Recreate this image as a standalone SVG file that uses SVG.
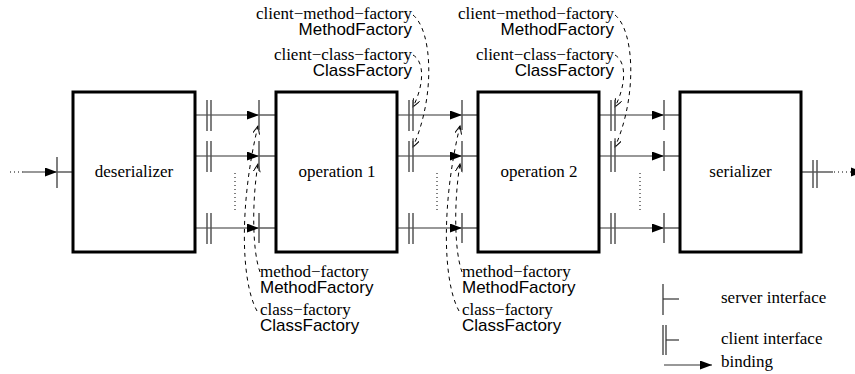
<svg xmlns="http://www.w3.org/2000/svg" width="855" height="374" viewBox="0 0 855 374">
<style>
.box{fill:#fff;stroke:#000;stroke-width:3}
.serif{font-family:"Liberation Serif","Times New Roman",serif;font-size:17px;fill:#000}
.sans{font-family:"Liberation Sans",Arial,sans-serif;font-size:17px;fill:#000}
.wire{stroke:#333;stroke-width:1.2;fill:none}
.bar{stroke:#555;stroke-width:1.5;fill:none}
.dash{stroke:#000;stroke-width:1;stroke-dasharray:4,4;fill:none}
.dots{stroke:#000;stroke-width:1;stroke-dasharray:1,3;fill:none}
</style>
<defs>
<marker id="arr" markerUnits="userSpaceOnUse" markerWidth="14" markerHeight="10" refX="12" refY="4.5" orient="auto">
<path d="M0,0 L12,4.5 L0,9 z" fill="#000"/>
</marker>
<marker id="open" markerUnits="userSpaceOnUse" markerWidth="12" markerHeight="10" refX="8" refY="3.5" orient="auto">
<path d="M0,0 L8,3.5 L0,7" fill="none" stroke="#000" stroke-width="1"/>
</marker>
</defs>

<g id="connectors">
<!-- input -->
<line class="dots" x1="10" y1="172" x2="23" y2="172"/>
<line class="wire" x1="23" y1="172" x2="57" y2="172" marker-end="url(#arr)"/>
<line class="wire" x1="57" y1="172" x2="73" y2="172"/>
<!-- gap 1 -->
<line class="wire" x1="195" y1="115" x2="259" y2="115" marker-end="url(#arr)"/>
<line class="wire" x1="259" y1="115" x2="276" y2="115"/>
<line class="wire" x1="195" y1="156" x2="259" y2="156" marker-end="url(#arr)"/>
<line class="wire" x1="259" y1="156" x2="276" y2="156"/>
<line class="wire" x1="195" y1="228" x2="259" y2="228" marker-end="url(#arr)"/>
<line class="wire" x1="259" y1="228" x2="276" y2="228"/>
<line class="dots" x1="235" y1="173" x2="235" y2="212"/>
<!-- gap 2 -->
<line class="wire" x1="397" y1="115" x2="462" y2="115" marker-end="url(#arr)"/>
<line class="wire" x1="462" y1="115" x2="478" y2="115"/>
<line class="wire" x1="397" y1="156" x2="462" y2="156" marker-end="url(#arr)"/>
<line class="wire" x1="462" y1="156" x2="478" y2="156"/>
<line class="wire" x1="397" y1="228" x2="462" y2="228" marker-end="url(#arr)"/>
<line class="wire" x1="462" y1="228" x2="478" y2="228"/>
<line class="dots" x1="437" y1="173" x2="437" y2="212"/>
<!-- gap 3 -->
<line class="wire" x1="599" y1="115" x2="664" y2="115" marker-end="url(#arr)"/>
<line class="wire" x1="664" y1="115" x2="680" y2="115"/>
<line class="wire" x1="599" y1="156" x2="664" y2="156" marker-end="url(#arr)"/>
<line class="wire" x1="664" y1="156" x2="680" y2="156"/>
<line class="wire" x1="599" y1="228" x2="664" y2="228" marker-end="url(#arr)"/>
<line class="wire" x1="664" y1="228" x2="680" y2="228"/>
<line class="dots" x1="640" y1="173" x2="640" y2="212"/>
<!-- output -->
<line class="wire" x1="801" y1="172" x2="833" y2="172"/>
<line class="dots" x1="834" y1="172" x2="851" y2="172"/>
<path d="M851,167.5 L863,172 L851,176.5 z" fill="#000"/>

<!-- factory bindings op1 -->
<path class="dash" d="M413,55 C425,62 424,85 413,107" marker-end="url(#open)"/>
<path class="dash" d="M413,15 C432,30 436,95 413,147" marker-end="url(#open)"/>
<path class="dash" d="M257,311 C240,280 240,200 258,126" marker-end="url(#open)"/>
<path class="dash" d="M260,272 C252,250 252,200 258,164" marker-end="url(#open)"/>
<!-- factory bindings op2 -->
<path class="dash" d="M615,55 C627,62 626,85 615,107" marker-end="url(#open)"/>
<path class="dash" d="M615,15 C634,30 638,95 615,147" marker-end="url(#open)"/>
<path class="dash" d="M459,311 C442,280 442,200 460,126" marker-end="url(#open)"/>
<path class="dash" d="M462,272 C454,250 454,200 460,164" marker-end="url(#open)"/>
</g>

<g id="deserializer">
<rect class="box" x="73" y="92" width="122" height="160"/>
<text class="serif" x="134" y="177" text-anchor="middle">deserializer</text>
<line class="bar" x1="57" y1="157" x2="57" y2="188"/>
<line class="bar" x1="207" y1="100" x2="207" y2="131"/><line class="bar" x1="211" y1="100" x2="211" y2="131"/>
<line class="bar" x1="207" y1="141" x2="207" y2="172"/><line class="bar" x1="211" y1="141" x2="211" y2="172"/>
<line class="bar" x1="207" y1="213" x2="207" y2="244"/><line class="bar" x1="211" y1="213" x2="211" y2="244"/>
</g>

<g id="operation1">
<rect class="box" x="276" y="92" width="121" height="160"/>
<text class="serif" x="337" y="177" text-anchor="middle">operation 1</text>
<line class="bar" x1="259" y1="100" x2="259" y2="130"/>
<line class="bar" x1="259" y1="141" x2="259" y2="171"/>
<line class="bar" x1="259" y1="213" x2="259" y2="243"/>
<line class="bar" x1="409" y1="100" x2="409" y2="131"/><line class="bar" x1="413" y1="100" x2="413" y2="131"/>
<line class="bar" x1="409" y1="141" x2="409" y2="172"/><line class="bar" x1="413" y1="141" x2="413" y2="172"/>
<line class="bar" x1="409" y1="213" x2="409" y2="244"/><line class="bar" x1="413" y1="213" x2="413" y2="244"/>
<text class="serif" x="412" y="19" text-anchor="end">client−method−factory</text>
<text class="sans" x="412" y="35" text-anchor="end">MethodFactory</text>
<text class="serif" x="412" y="60" text-anchor="end">client−class−factory</text>
<text class="sans" x="412" y="76" text-anchor="end">ClassFactory</text>
<text class="serif" x="260" y="277">method−factory</text>
<text class="sans" x="260" y="293">MethodFactory</text>
<text class="serif" x="260" y="315">class−factory</text>
<text class="sans" x="260" y="331">ClassFactory</text>
</g>

<g id="operation2">
<rect class="box" x="478" y="92" width="121" height="160"/>
<text class="serif" x="539" y="177" text-anchor="middle">operation 2</text>
<line class="bar" x1="462" y1="100" x2="462" y2="130"/>
<line class="bar" x1="462" y1="141" x2="462" y2="171"/>
<line class="bar" x1="462" y1="213" x2="462" y2="243"/>
<line class="bar" x1="611" y1="100" x2="611" y2="131"/><line class="bar" x1="615" y1="100" x2="615" y2="131"/>
<line class="bar" x1="611" y1="141" x2="611" y2="172"/><line class="bar" x1="615" y1="141" x2="615" y2="172"/>
<line class="bar" x1="611" y1="213" x2="611" y2="244"/><line class="bar" x1="615" y1="213" x2="615" y2="244"/>
<text class="serif" x="614" y="19" text-anchor="end">client−method−factory</text>
<text class="sans" x="614" y="35" text-anchor="end">MethodFactory</text>
<text class="serif" x="614" y="60" text-anchor="end">client−class−factory</text>
<text class="sans" x="614" y="76" text-anchor="end">ClassFactory</text>
<text class="serif" x="462" y="277">method−factory</text>
<text class="sans" x="462" y="293">MethodFactory</text>
<text class="serif" x="462" y="315">class−factory</text>
<text class="sans" x="462" y="331">ClassFactory</text>
</g>

<g id="serializer">
<rect class="box" x="680" y="92" width="121" height="160"/>
<text class="serif" x="740.5" y="177" text-anchor="middle">serializer</text>
<line class="bar" x1="664" y1="100" x2="664" y2="130"/>
<line class="bar" x1="664" y1="141" x2="664" y2="171"/>
<line class="bar" x1="664" y1="213" x2="664" y2="243"/>
<line class="bar" x1="813" y1="160" x2="813" y2="188"/><line class="bar" x1="817" y1="160" x2="817" y2="188"/>
</g>

<g id="legend">
<line class="bar" x1="663" y1="284" x2="663" y2="315"/>
<line class="wire" x1="663" y1="299" x2="679" y2="299"/>
<text class="serif" x="721" y="303">server interface</text>
<line class="bar" x1="663" y1="325" x2="663" y2="355"/><line class="bar" x1="666" y1="325" x2="666" y2="355"/>
<line class="wire" x1="666" y1="340" x2="679" y2="340"/>
<text class="serif" x="721" y="344">client interface</text>
<line class="wire" x1="664" y1="365" x2="712" y2="365" marker-end="url(#arr)"/>
<text class="serif" x="721" y="367">binding</text>
</g>
</svg>
